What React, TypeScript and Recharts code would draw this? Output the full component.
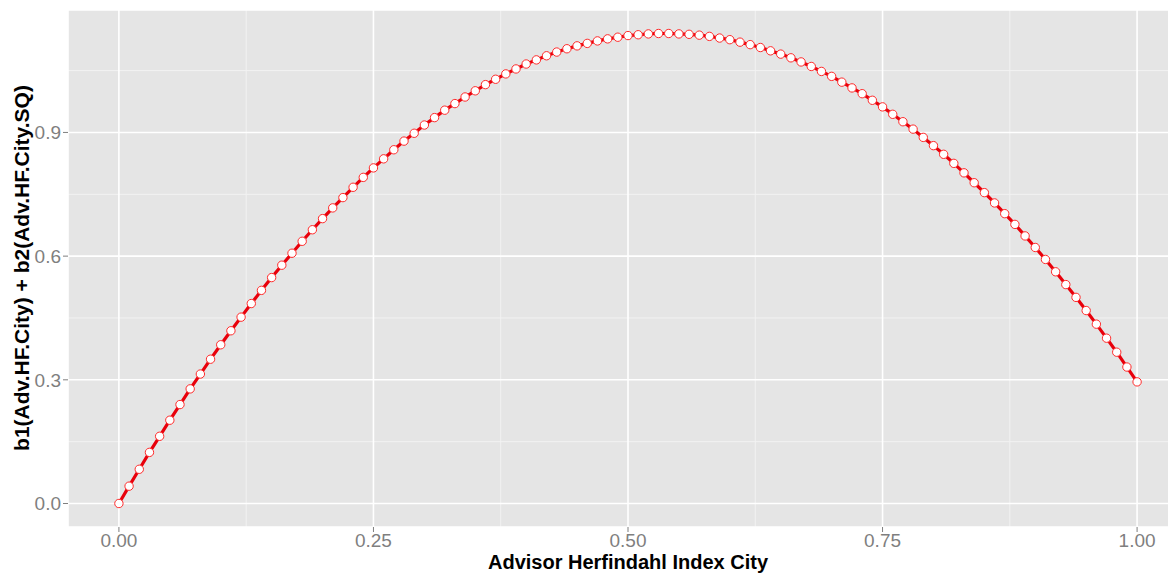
import React from "react";
import { LineChart, Line, XAxis, YAxis, CartesianGrid } from "recharts";

// Advisor Herfindahl Index City, 0.00 .. 1.00 in steps of 0.01
const hfIndex = [
  0.0, 0.01, 0.02, 0.03, 0.04, 0.05, 0.06, 0.07, 0.08, 0.09,
  0.1, 0.11, 0.12, 0.13, 0.14, 0.15, 0.16, 0.17, 0.18, 0.19,
  0.2, 0.21, 0.22, 0.23, 0.24, 0.25, 0.26, 0.27, 0.28, 0.29,
  0.3, 0.31, 0.32, 0.33, 0.34, 0.35, 0.36, 0.37, 0.38, 0.39,
  0.4, 0.41, 0.42, 0.43, 0.44, 0.45, 0.46, 0.47, 0.48, 0.49,
  0.5, 0.51, 0.52, 0.53, 0.54, 0.55, 0.56, 0.57, 0.58, 0.59,
  0.6, 0.61, 0.62, 0.63, 0.64, 0.65, 0.66, 0.67, 0.68, 0.69,
  0.7, 0.71, 0.72, 0.73, 0.74, 0.75, 0.76, 0.77, 0.78, 0.79,
  0.8, 0.81, 0.82, 0.83, 0.84, 0.85, 0.86, 0.87, 0.88, 0.89,
  0.9, 0.91, 0.92, 0.93, 0.94, 0.95, 0.96, 0.97, 0.98, 0.99, 1.0,
];

// b1(Adv.HF.City) + b2(Adv.HF.City.SQ)
const effect = [
  0.0, 0.042, 0.083, 0.124, 0.163, 0.202, 0.24, 0.278, 0.314, 0.35,
  0.385, 0.419, 0.452, 0.485, 0.517, 0.548, 0.578, 0.607, 0.636, 0.664,
  0.691, 0.717, 0.742, 0.767, 0.791, 0.814, 0.836, 0.858, 0.879, 0.898,
  0.918, 0.936, 0.954, 0.97, 0.986, 1.001, 1.016, 1.029, 1.042, 1.054,
  1.066, 1.076, 1.086, 1.095, 1.103, 1.11, 1.116, 1.122, 1.127, 1.131,
  1.135, 1.137, 1.139, 1.14, 1.14, 1.139, 1.138, 1.136, 1.133, 1.129,
  1.125, 1.119, 1.113, 1.106, 1.098, 1.09, 1.081, 1.071, 1.06, 1.048,
  1.036, 1.022, 1.008, 0.994, 0.978, 0.962, 0.944, 0.926, 0.908, 0.888,
  0.868, 0.847, 0.825, 0.802, 0.778, 0.754, 0.729, 0.703, 0.677, 0.649,
  0.621, 0.592, 0.562, 0.531, 0.5, 0.468, 0.435, 0.401, 0.367, 0.331, 0.295,
];

const xTicks = [0, 0.25, 0.5, 0.75, 1];
const yTicks = [0, 0.3, 0.6, 0.9];
const xMinor = [0.125, 0.375, 0.625, 0.875];
const yMinor = [0.15, 0.45, 0.75, 1.05];

const data = hfIndex.map((x, i) => ({ x, y: effect[i] }));

const tickStyle = { fill: "#7f7f7f", fontSize: 19, fontFamily: "Liberation Sans, Arial, sans-serif" };
const titleFont = "Liberation Sans, Arial, sans-serif";

export default function App() {
  return (
    <div style={{ width: 1176, height: 574, overflow: "hidden", margin: "-8px 0 0 -8px", background: "#fff" }}>
      <LineChart width={1194} height={574} data={data} margin={{ top: 10, right: 6, bottom: 0, left: 0 }}>
        <CartesianGrid
          fill="#e5e5e5"
          fillOpacity={1}
          stroke="#f2f2f2"
          strokeWidth={1}
          horizontalValues={yMinor}
          verticalValues={xMinor}
        />
        <CartesianGrid fill="none" stroke="#ffffff" strokeWidth={1.6} />
        <XAxis
          dataKey="x"
          type="number"
          domain={[-0.05, 1.05]}
          allowDataOverflow
          ticks={xTicks}
          tickFormatter={(v: number) => v.toFixed(2)}
          tick={tickStyle}
          axisLine={false}
          tickLine={{ stroke: "#7f7f7f" }}
          tickSize={5}
          tickMargin={2}
          height={47}
          label={{
            content: () => (
              <text x={628} y={569} textAnchor="middle" fontFamily={titleFont} fontWeight="bold" fontSize={20} fill="#000">
                Advisor Herfindahl Index City
              </text>
            ),
          }}
        />
        <YAxis
          type="number"
          domain={[-0.057, 1.197]}
          allowDataOverflow
          ticks={yTicks}
          tickFormatter={(v: number) => v.toFixed(1)}
          tick={tickStyle}
          axisLine={false}
          tickLine={{ stroke: "#7f7f7f" }}
          tickSize={5}
          tickMargin={2}
          width={68}
          label={{
            content: () => (
              <text
                x={29}
                y={268}
                transform="rotate(-90, 29, 268)"
                textAnchor="middle"
                fontFamily={titleFont}
                fontWeight="bold"
                fontSize={21}
                fill="#000"
              >
                b1(Adv.HF.City) + b2(Adv.HF.City.SQ)
              </text>
            ),
          }}
        />
        <Line
          type="linear"
          dataKey="y"
          stroke="#e8000b"
          strokeWidth={3.2}
          dot={{ r: 4.2, fill: "#ffffff", stroke: "#ff2a2a", strokeWidth: 1 }}
          isAnimationActive={false}
        />
      </LineChart>
    </div>
  );
}
